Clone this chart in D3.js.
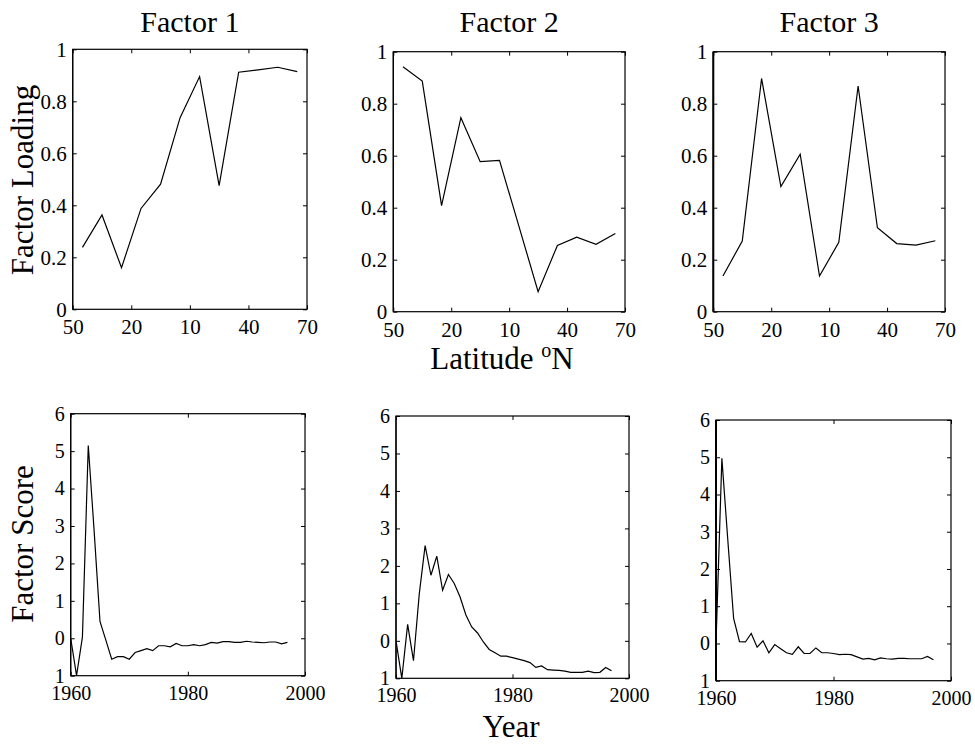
<!DOCTYPE html>
<html>
<head>
<meta charset="utf-8">
<script src="https://cdn.jsdelivr.net/npm/d3@7"></script>
<style>
	body { margin: 0; background: #fff; }
	svg { display: block; font-family: 'Liberation Serif', 'Times New Roman', serif; }
</style>
</head>
<body>
<svg id="chart" width="975" height="744"></svg>
<script>
// values
const factorNames = ['Factor 1', 'Factor 2', 'Factor 3'];

const stations = [1, 2, 3, 4, 5, 6, 7, 8, 9, 10, 11, 12];
const latitudeTickPos = [0.5, 3.5, 6.5, 9.5, 12.5];
const latitudeTickLabels = ['50', '20', '10', '40', '70'];
const loadingTicks = [0, 0.2, 0.4, 0.6, 0.8, 1];
const loadingTickLabels = ['0', '0.2', '0.4', '0.6', '0.8', '1'];

const loading1 = [0.238, 0.363, 0.16, 0.388, 0.481, 0.737, 0.895, 0.476, 0.912, 0.921, 0.931, 0.914];
const loading2 = [0.942, 0.887, 0.408, 0.746, 0.577, 0.582, 0.33, 0.077, 0.255, 0.287, 0.259, 0.301];
const loading3 = [0.137, 0.272, 0.897, 0.481, 0.606, 0.137, 0.267, 0.868, 0.323, 0.262, 0.256, 0.273];

const years = d3.range(1960, 1998);
const yearTicks = [1960, 1980, 2000];
const scoreTicks = [-1, 0, 1, 2, 3, 4, 5, 6];
const scoreTickLabels = ['1', '0', '1', '2', '3', '4', '5', '6'];

const score1 = [0.0, -1.0, 0.03, 5.15, 2.87, 0.45, -0.05, -0.56, -0.49, -0.49, -0.56, -0.38, -0.33, -0.28, -0.33,
	-0.2, -0.2, -0.23, -0.14, -0.2, -0.2, -0.17, -0.2, -0.17, -0.11, -0.13, -0.09, -0.09, -0.11, -0.11, -0.08,
	-0.1, -0.11, -0.12, -0.1, -0.1, -0.15, -0.11];
const score2 = [0.0, -1.0, 0.44, -0.53, 1.26, 2.54, 1.75, 2.26, 1.35, 1.77, 1.53, 1.17, 0.69, 0.37, 0.21,
	-0.03, -0.23, -0.32, -0.41, -0.41, -0.45, -0.49, -0.53, -0.58, -0.71, -0.67, -0.77, -0.78, -0.79, -0.81,
	-0.84, -0.84, -0.84, -0.81, -0.85, -0.84, -0.71, -0.8];
const score3 = [0.0, 4.97, 2.8, 0.67, 0.05, 0.04, 0.27, -0.1, 0.07, -0.25, -0.03, -0.14, -0.25, -0.29, -0.09,
	-0.27, -0.27, -0.12, -0.25, -0.25, -0.27, -0.3, -0.29, -0.3, -0.36, -0.42, -0.4, -0.44, -0.39, -0.41,
	-0.42, -0.4, -0.4, -0.41, -0.41, -0.41, -0.35, -0.44];

const loadings = [loading1, loading2, loading3];
const scores = [score1, score2, score3];

// panel boxes (left, top, right, bottom)
const topBoxes = [[72.7, 49.3, 307, 309.3], [393.3, 51.7, 625, 311.7], [713.3, 51.7, 945, 311.7]];
const bottomBoxes = [[70.7, 413.7, 305, 675.7], [396, 416, 629, 678.3], [716, 420, 951, 680.7]];
const leftEdgeWidth = [1.2, 1.2, 2];

const svg = d3.select('#chart');
const tickLen = 4;

function drawPanel(i, box, xDomain, yDomain, xTicks, xLabels, yTicks, yLabels, xs, ys, fontSize) {
	const [x0, y0, x1, y1] = box;
	const xScale = d3.scaleLinear().domain(xDomain).range([x0, x1]);
	const yScale = d3.scaleLinear().domain(yDomain).range([y1, y0]);
	const g = svg.append('g');

	const clipId = 'clip' + Math.round(x0) + '_' + Math.round(y0);
	g.append('clipPath')
		.attr('id', clipId)
		.append('rect')
		.attr('x', x0)
		.attr('y', y0)
		.attr('width', x1 - x0)
		.attr('height', y1 - y0);

	const fmtX = (d, k) => xLabels[k];
	const fmtY = (d, k) => yLabels[k];

	const axes = [
		{ axis: d3.axisBottom(xScale).tickValues(xTicks).tickFormat(fmtX).tickPadding(10), t: `translate(0,${y1})` },
		{ axis: d3.axisTop(xScale).tickValues(xTicks).tickFormat(''), t: `translate(0,${y0})` },
		{ axis: d3.axisLeft(yScale).tickValues(yTicks).tickFormat(fmtY).tickPadding(6), t: `translate(${x0},0)` },
		{ axis: d3.axisRight(yScale).tickValues(yTicks).tickFormat(''), t: `translate(${x1},0)` },
	];
	axes.forEach(a => {
		const ag = g.append('g')
			.attr('transform', a.t)
			.call(a.axis.tickSizeInner(-tickLen).tickSizeOuter(0));
		ag.select('.domain').remove();
		ag.selectAll('line').attr('stroke', '#000').attr('stroke-width', 1);
		ag.selectAll('text')
			.attr('fill', '#000')
			.style('font-family', "'Liberation Serif', 'Times New Roman', serif")
			.style('font-size', fontSize + 'px');
	});

	g.append('rect')
		.attr('x', x0)
		.attr('y', y0)
		.attr('width', x1 - x0)
		.attr('height', y1 - y0)
		.attr('fill', 'none')
		.attr('stroke', '#000')
		.attr('stroke-width', 1.2);
	g.append('line')
		.attr('x1', x0).attr('x2', x0)
		.attr('y1', y0).attr('y2', y1)
		.attr('stroke', '#000')
		.attr('stroke-width', leftEdgeWidth[i]);

	const line = d3.line()
		.x((d, k) => xScale(xs[k]))
		.y(d => yScale(d));
	g.append('path')
		.datum(ys)
		.attr('clip-path', `url(#${clipId})`)
		.attr('fill', 'none')
		.attr('stroke', '#000')
		.attr('stroke-width', 1.2)
		.attr('stroke-linejoin', 'miter')
		.attr('d', line);
}

for (let i = 0; i < 3; i++) {
	drawPanel(i, topBoxes[i], [0.5, 12.5], [0, 1], latitudeTickPos, latitudeTickLabels,
		loadingTicks, loadingTickLabels, stations, loadings[i], 21);
	drawPanel(i, bottomBoxes[i], [1960, 2000], [-1, 6], yearTicks, yearTicks.map(String),
		scoreTicks, scoreTickLabels, years, scores[i], 20);

	const b = topBoxes[i];
	svg.append('text')
		.attr('x', (b[0] + b[2]) / 2)
		.attr('y', 32)
		.attr('text-anchor', 'middle')
		.style('font-size', '30px')
		.text(factorNames[i]);
}

// axis titles
svg.append('text')
	.attr('transform', 'translate(33,180) rotate(-90)')
	.attr('text-anchor', 'middle')
	.style('font-size', '31px')
	.text('Factor Loading');

svg.append('text')
	.attr('transform', 'translate(33,544) rotate(-90)')
	.attr('text-anchor', 'middle')
	.style('font-size', '31px')
	.text('Factor Score');

const lat = svg.append('text')
	.attr('x', 502)
	.attr('y', 369)
	.attr('text-anchor', 'middle')
	.style('font-size', '31px');
lat.append('tspan').text('Latitude ');
lat.append('tspan').attr('dy', -12).style('font-size', '20px').text('o');
lat.append('tspan').attr('dy', 12).text('N');

svg.append('text')
	.attr('x', 511)
	.attr('y', 737)
	.attr('text-anchor', 'middle')
	.style('font-size', '31px')
	.text('Year');
</script>
</body>
</html>
